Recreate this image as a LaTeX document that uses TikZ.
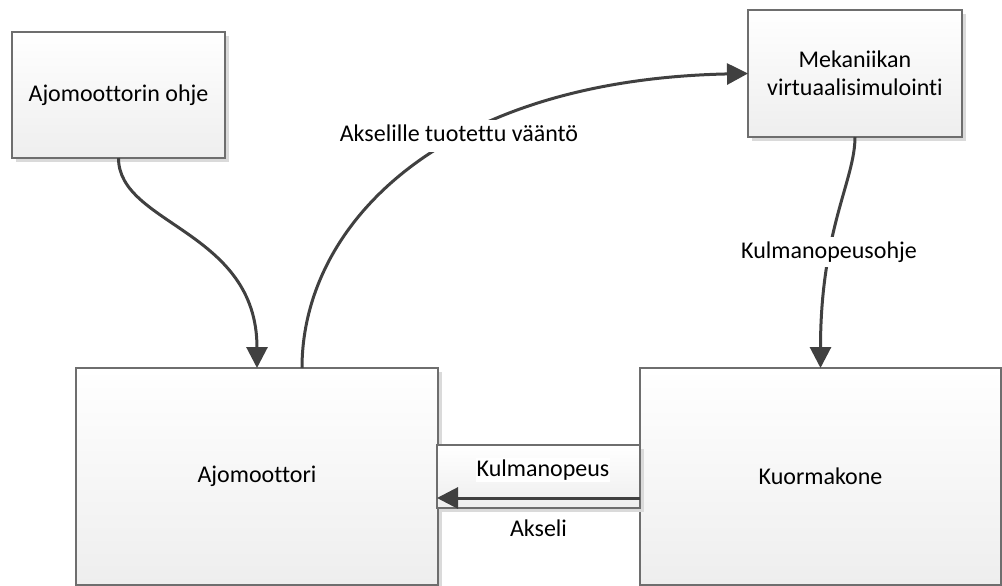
\documentclass[tikz,border=0pt]{standalone}
\usepackage{fontspec}
\setmainfont{Carlito}[Ligatures=NoCommon, Contextuals=NoAlternate, RawFeature={-liga;-clig;-calt}]
\usetikzlibrary{arrows.meta,shadows}

\definecolor{edgegray}{RGB}{110,110,110}
\definecolor{shadegray}{RGB}{218,218,218}
\definecolor{boxbottom}{RGB}{238,238,238}
\definecolor{linkgray}{RGB}{64,64,64}

\tikzset{
  blockbox/.style={draw=edgegray, line width=1.3pt, top color=white, bottom color=boxbottom,
    general shadow={fill=shadegray, shadow xshift=4pt, shadow yshift=-4pt},
    inner sep=0pt, outer sep=0pt, align=center,
    font=\fontsize{24}{28.5}\selectfont},
  link/.style={draw=linkgray, line width=3pt, -{Triangle[length=21pt,width=21pt]}},
  tag/.style={fill=white, inner sep=2pt, text height=17pt, text depth=5pt,
    font=\fontsize{24}{28.5}\selectfont},
}

\begin{document}
\begin{tikzpicture}[x=1pt, y=-1pt]
  \useasboundingbox (0,0) rectangle (1002,586);

  % blocks
  \node[blockbox, minimum width=213pt, minimum height=126pt] (ohje) at (118.5,95)
    {Ajomoottorin ohje};
  \node[blockbox, minimum width=214pt, minimum height=127pt] (mek) at (855,73.5)
    {Mekaniikan\\virtuaalisimulointi};
  \node[blockbox, minimum width=362pt, minimum height=217pt] (am) at (257,476.5)
    {Ajomoottori};
  \node[blockbox, minimum width=361pt, minimum height=217pt] (kuo) at (820.5,476.5)
    {Kuormakone};

  % shaft between the two machines
  \node[blockbox, minimum width=203pt, minimum height=63pt] (shaft) at (538.5,476.5) {};
  \node[tag, inner sep=1pt] (kw) at (543,470) {Kulmanopeus};
  \node[tag, fill=none] (ak) at (538.5,530.5) {Akseli};

  % signal flow
  \draw[link] (ohje.south) .. controls +(0,67) and +(0,-138) .. (am.north);
  \draw[link] ([xshift=45pt]am.north) .. controls +(0,-143) and +(-308,6.5) .. (mek.west);
  \draw[link] (mek.south) .. controls +(0,43) and +(0,-138) .. (kuo.north);
  \draw[link] ([yshift=-21.5pt]kuo.west) -- ([yshift=-21.5pt]shaft.west);

  % connector labels
  \node[tag, inner sep=5pt] (torque) at (459,135.5) {Akselille tuotettu vääntö};
  \node[tag, inner sep=4pt] (speedref) at (829,252) {Kulmanopeusohje};
\end{tikzpicture}
\end{document}
